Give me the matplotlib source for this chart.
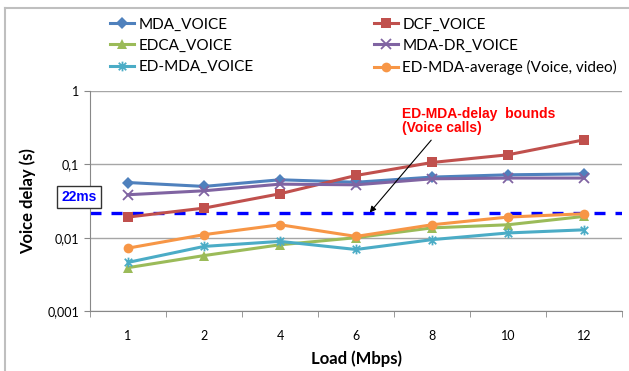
import matplotlib
matplotlib.use("Agg")
import matplotlib.pyplot as plt
from matplotlib.path import Path
from matplotlib.lines import Line2D
from matplotlib.ticker import FixedLocator, NullFormatter

plt.rcParams['font.family'] = ['Lato', 'DejaVu Sans']

# Load (Mbps) categories
loads = ["1", "2", "4", "6", "8", "10", "12"]

# voice delay per scheme (s)
mda_voice = [0.0565, 0.050, 0.0616, 0.057, 0.067, 0.072, 0.074]
dcf_voice = [0.0191, 0.0253, 0.0397, 0.0705, 0.106, 0.135, 0.216]
edca_voice = [0.0039, 0.0057, 0.0080, 0.0100, 0.0136, 0.0150, 0.0195]
mda_dr_voice = [0.0385, 0.0436, 0.0537, 0.0526, 0.0635, 0.065, 0.065]
ed_mda_voice = [0.0046, 0.0076, 0.0089, 0.0069, 0.0094, 0.0116, 0.0128]
ed_mda_avg = [0.0072, 0.0110, 0.0150, 0.0104, 0.0150, 0.0191, 0.0212]

delay_bound = 0.022
yticks = [0.001, 0.01, 0.1, 1]
ytick_labels = ["0,001", "0,01", "0,1", "1"]

# Excel-style asterisk: an X with a vertical bar through it
star = Path(
    [(-1, -1), (1, 1), (-1, 1), (1, -1), (0, -1.3), (0, 1.3)],
    [Path.MOVETO, Path.LINETO, Path.MOVETO, Path.LINETO, Path.MOVETO, Path.LINETO],
)

series = [
    ("MDA_VOICE", mda_voice, "#4F81BD", "D", 6),
    ("DCF_VOICE", dcf_voice, "#C0504D", "s", 7),
    ("EDCA_VOICE", edca_voice, "#9BBB59", "^", 7),
    ("MDA-DR_VOICE", mda_dr_voice, "#8064A2", "x", 7),
    ("ED-MDA_VOICE", ed_mda_voice, "#4BACC6", star, 7),
    ("ED-MDA-average (Voice, video)", ed_mda_avg, "#F79646", "o", 7),
]

fig = plt.figure(figsize=(6.29, 3.71), dpi=100)
ax = fig.add_axes([0.1431, 0.1617, 0.8458, 0.593])

x = list(range(len(loads)))
ax.axhline(delay_bound, color="#0000FF", lw=2.4, ls=(0, (3.3, 3.0)), zorder=2)

handles = []
for name, vals, color, marker, ms in series:
    filled = marker != "x" and marker is not star
    ax.plot(x, vals, color=color, lw=2.2, marker=marker, ms=ms,
            mew=1.3 if not filled else 0, mfc=color, mec=color, zorder=3)
    handles.append(Line2D([], [], color=color, lw=2.2, marker=marker, ms=ms,
                          mew=1.3 if not filled else 0, mfc=color, mec=color))

ax.set_yscale("log")
ax.set_ylim(0.001, 1)
ax.set_xlim(-0.5, len(loads) - 0.5)
ax.yaxis.set_major_locator(FixedLocator(yticks))
ax.set_yticklabels(ytick_labels)
ax.yaxis.set_minor_formatter(NullFormatter())
ax.yaxis.set_minor_locator(FixedLocator([]))
ax.set_xticks(x)
ax.set_xticklabels(loads)
ax.set_xticks([i - 0.5 for i in range(len(loads) + 1)], minor=True)
ax.tick_params(axis="x", which="major", length=0, pad=14, labelsize=9)
ax.tick_params(axis="x", which="minor", length=4, color="#888888")
ax.tick_params(axis="y", length=4, color="#888888", labelsize=9, pad=4)

ax.grid(axis="y", which="major", color="#A6A6A6", lw=1)
ax.set_axisbelow(True)
for side in ("top", "right"):
    ax.spines[side].set_visible(False)
for side in ("left", "bottom"):
    ax.spines[side].set_color("#888888")

ax.set_xlabel("Load (Mbps)", fontsize=12, fontweight="bold", labelpad=6)
ax.set_ylabel("Voice delay (s)", fontsize=12, fontweight="bold", labelpad=8)

# 22 ms bound label box
ax.text(-0.88, 0.036, "22ms", color="#0000FF", fontsize=10, fontweight="bold",
        family="Liberation Sans", va="center", ha="left", clip_on=False, zorder=6,
        bbox=dict(boxstyle="square,pad=0.3", fc="white", ec="#333333", lw=1))

ax.annotate("ED-MDA-delay  bounds\n(Voice calls)", xy=(3.18, delay_bound),
            xytext=(3.6, 0.6), color="#FF0000", fontsize=10, fontweight="bold",
            family="Liberation Sans", ha="left", va="top", linespacing=1.0,
            arrowprops=dict(arrowstyle="-|>", color="black", lw=0.8,
                            shrinkA=2, shrinkB=0, mutation_scale=9,
                            relpos=(0.22, 0.0)))

# legend rows read left-to-right, so feed handles column by column
order = [0, 2, 4, 1, 3, 5]
fig.legend([handles[i] for i in order], [series[i][0] for i in order],
           loc="upper left", bbox_to_anchor=(0.153, 0.99), ncol=2,
           frameon=False, fontsize=11, handlelength=1.55, handletextpad=0.3,
           columnspacing=7.9, labelspacing=0.48)

# outer chart frame (left and top edges)
fig.add_artist(Line2D([0.008, 0.008], [0, 0.978], color="#BFBFBF", lw=1.5))
fig.add_artist(Line2D([0.008, 1.0], [0.978, 0.978], color="#BFBFBF", lw=1.5))

fig.savefig("out.png", dpi=100)
